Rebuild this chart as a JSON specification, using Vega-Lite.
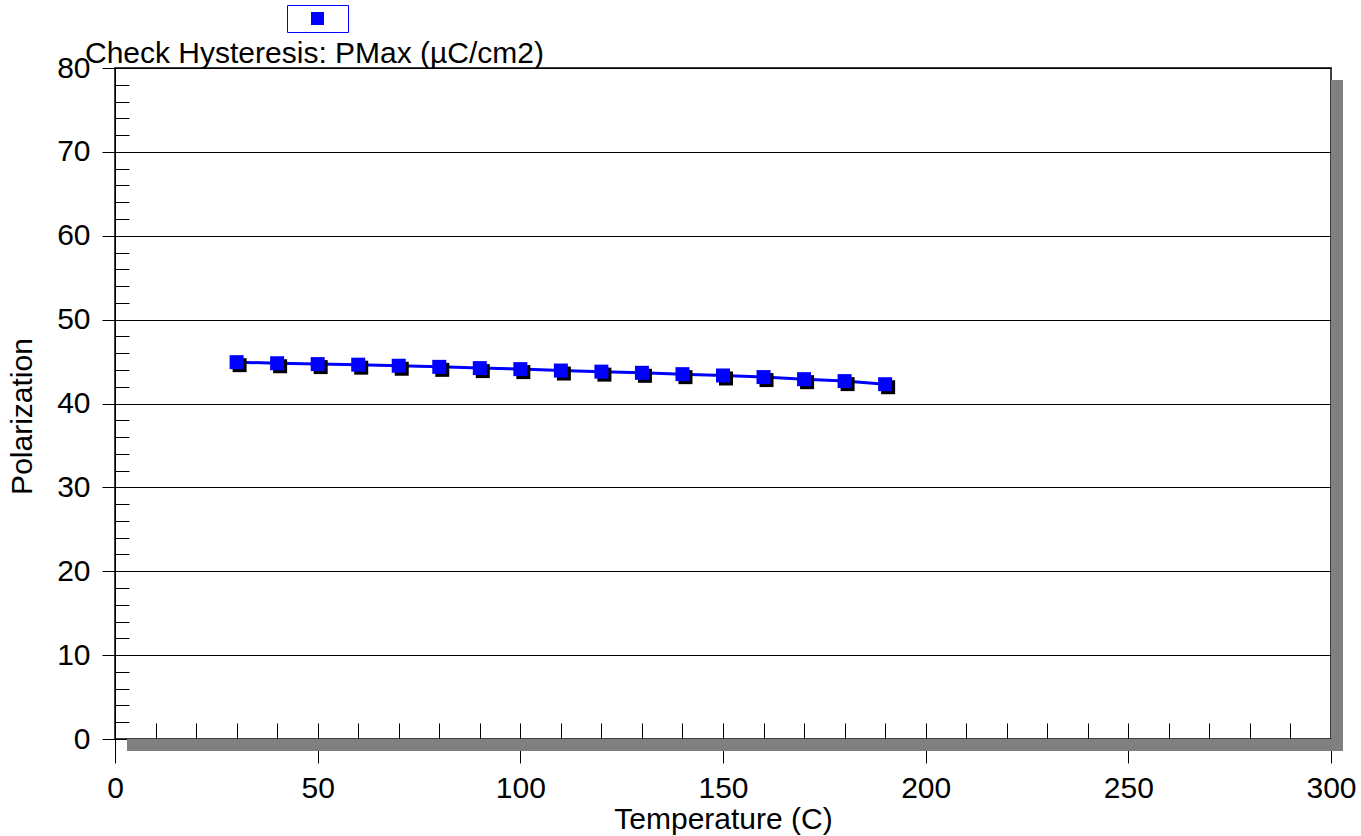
{
  "$schema": "https://vega.github.io/schema/vega-lite/v6.json",
  "width": 1216,
  "height": 671,
  "autosize": {"type": "none"},
  "padding": {"left": 115, "top": 68, "right": 30, "bottom": 97},
  "background": "white",
  "title": {
    "text": "Check Hysteresis: PMax (µC/cm2)",
    "anchor": "start",
    "frame": "group",
    "orient": "top",
    "dx": -30,
    "offset": -64,
    "font": "Liberation Sans",
    "fontSize": 30,
    "fontWeight": "normal",
    "color": "black"
  },
  "config": {
    "view": {"stroke": "black", "strokeWidth": 1.5},
    "font": "Liberation Sans",
    "axis": {
      "labelFont": "Liberation Sans",
      "labelFontSize": 30,
      "labelColor": "black",
      "labelFlush": false,
      "titleFont": "Liberation Sans",
      "titleFontSize": 30,
      "titleFontWeight": "normal",
      "titleColor": "black",
      "domainColor": "black",
      "tickColor": "black",
      "gridColor": "black",
      "zindex": 1
    }
  },
  "data": {
    "values": [
      {"t": 30, "p": 44.93},
      {"t": 40, "p": 44.8},
      {"t": 50, "p": 44.7},
      {"t": 60, "p": 44.63},
      {"t": 70, "p": 44.5},
      {"t": 80, "p": 44.37},
      {"t": 90, "p": 44.22},
      {"t": 100, "p": 44.1},
      {"t": 110, "p": 43.93},
      {"t": 120, "p": 43.8},
      {"t": 130, "p": 43.66},
      {"t": 140, "p": 43.5},
      {"t": 150, "p": 43.34},
      {"t": 160, "p": 43.15},
      {"t": 170, "p": 42.9},
      {"t": 180, "p": 42.67},
      {"t": 190, "p": 42.3}
    ]
  },
  "resolve": {"axis": {"x": "independent", "y": "independent"}},
  "layer": [
    {
      "mark": {"type": "rect", "color": "#808080", "xOffset": 12, "x2Offset": 12, "y2Offset": 12},
      "encoding": {
        "x": {
          "datum": 0, "type": "quantitative",
          "scale": {"domain": [0, 300], "nice": false, "zero": true},
          "axis": {
            "orient": "bottom", "offset": -16, "tickSize": 16, "domain": false, "labels": false,
            "grid": false, "title": null,
            "values": [0,10,20,30,40,50,60,70,80,90,100,110,120,130,140,150,160,170,180,190,200,210,220,230,240,250,260,270,280,290,300]
          }
        },
        "x2": {"datum": 300},
        "y": {
          "datum": 0, "type": "quantitative",
          "scale": {"domain": [0, 80], "nice": false, "zero": true},
          "axis": {
            "orient": "left", "offset": -14, "tickSize": 14, "domain": false, "labels": false,
            "grid": false, "title": null,
            "values": [0,2,4,6,8,10,12,14,16,18,20,22,24,26,28,30,32,34,36,38,40,42,44,46,48,50,52,54,56,58,60,62,64,66,68,70,72,74,76,78,80]
          }
        },
        "y2": {"datum": 0}
      }
    },
    {
      "mark": {"type": "rect", "color": "#808080", "x2Offset": 12, "yOffset": 12, "y2Offset": 12},
      "encoding": {
        "x": {"datum": 300, "type": "quantitative", "axis": null},
        "x2": {"datum": 300},
        "y": {"datum": 80, "type": "quantitative", "axis": null},
        "y2": {"datum": 0}
      }
    },
    {
      "mark": {"type": "line", "color": "#0000ff", "strokeWidth": 3},
      "encoding": {
        "x": {
          "field": "t", "type": "quantitative",
          "axis": {
            "orient": "bottom", "tickSize": 24, "labelPadding": 10, "grid": false,
            "title": "Temperature (C)", "titlePadding": 1,
            "values": [0, 50, 100, 150, 200, 250, 300]
          }
        },
        "y": {
          "field": "p", "type": "quantitative",
          "axis": {
            "orient": "left", "tickSize": 13, "labelPadding": 12, "grid": true,
            "title": "Polarization", "titlePadding": 19, "titleY": 348,
            "values": [0, 10, 20, 30, 40, 50, 60, 70, 80]
          }
        }
      }
    },
    {
      "mark": {"type": "point", "shape": "square", "filled": true, "color": "black", "opacity": 1, "size": 196, "xOffset": 3, "yOffset": 3},
      "encoding": {
        "x": {"field": "t", "type": "quantitative", "axis": null},
        "y": {"field": "p", "type": "quantitative", "axis": null}
      }
    },
    {
      "mark": {"type": "point", "shape": "square", "filled": true, "opacity": 1, "size": 196},
      "encoding": {
        "x": {"field": "t", "type": "quantitative", "axis": null},
        "y": {"field": "p", "type": "quantitative", "axis": null},
        "color": {
          "datum": "PMax",
          "scale": {"range": ["#0000ff"]},
          "legend": {
            "title": null,
            "orient": "none",
            "legendX": 172,
            "legendY": -63,
            "strokeColor": "#0000ff",
            "padding": 7,
            "symbolType": "square",
            "symbolSize": 169,
            "symbolOffset": 17,
            "labelOffset": 17,
            "labelExpr": "''",
            "symbolStrokeWidth": 0
          }
        }
      }
    }
  ]
}
